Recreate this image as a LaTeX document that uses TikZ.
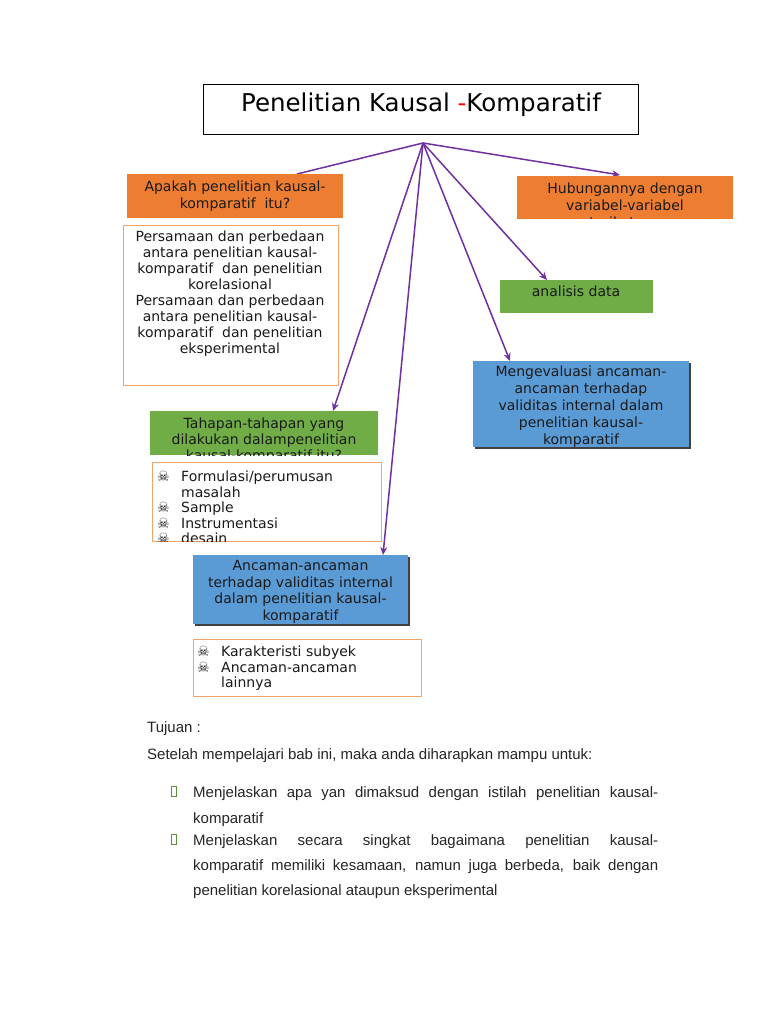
\documentclass[tikz,border=0pt]{standalone}
\usepackage{fontspec}
\newfontfamily\vf{DejaVu Sans}
\newfontfamily\djv{DejaVu Sans}
\newfontfamily\af{Liberation Sans}
\usetikzlibrary{arrows.meta}
\definecolor{orng}{HTML}{ED7D31}
\definecolor{orbd}{HTML}{F0A468}
\definecolor{grn}{HTML}{70AD47}
\definecolor{blu}{HTML}{5B9BD5}
\definecolor{prp}{HTML}{7030A0}
\definecolor{bltx}{HTML}{1A1A1A}
\definecolor{bulg}{HTML}{5E8E3C}
\tikzset{
  boxn/.style={rectangle, inner sep=0, outer sep=0, anchor=north west},
  fillbox/.style={boxn, draw=none},
  framebox/.style={boxn, draw=orbd, line width=1pt, fill=white},
  shadowbox/.style={boxn, fill=black!75, draw=none},
  lh/.style={font=\vf\fontsize{14}{#1}\selectfont},
  txt/.style={lh=16.5, align=center, inner sep=0, anchor=north, text=bltx},
  ltxt/.style={lh=15.6, align=left, inner sep=0, anchor=north west, text=bltx},
  btxt/.style={font=\af\fontsize{15}{18}\selectfont, inner sep=0, anchor=base west, text=black!85},
  conn/.style={draw=prp, line width=1.5pt},
  arr/.style={conn, -{Stealth[length=8pt,width=7pt]}},
  gbul/.style={rectangle, draw=bulg, line width=1.2pt, minimum width=4.5pt, minimum height=10pt, inner sep=0, anchor=south west}
}
\newcommand{\skb}{\makebox[24pt][l]{\djv\fontsize{14}{12}\selectfont ☠}}
\begin{document}
\begin{tikzpicture}[x=1pt,y=-1pt]
\useasboundingbox (0,0) rectangle (768,1024);
\fill[white] (0,0) rectangle (768,1024);

% title
\node[boxn, draw=black, line width=1pt, fill=white, minimum width=435, minimum height=50] (title) at (203,85) {};
\node[font=\vf\fontsize{24.5}{28}\selectfont, anchor=base, inner sep=0] (titlet) at (421,112) {Penelitian Kausal \textcolor{red}{-}Komparatif};
\coordinate (hub) at (423,143);

% target coordinates
\coordinate (e1) at (297,174);
\coordinate (e2) at (620,175);
\coordinate (e3) at (547,280);
\coordinate (e4) at (510,361);
\coordinate (e5) at (333,411);
\coordinate (e6) at (383,555);

\draw[conn] (hub) -- (e1);
\draw[arr] (hub) -- (e2);
\draw[arr] (hub) -- (e3);
\draw[arr] (hub) -- (e4);
\draw[arr] (hub) -- (e5);
\draw[arr] (hub) -- (e6);

% orange box 1
\node[fillbox, fill=orng, minimum width=216, minimum height=44] (q1) at (127,174) {};
\node[txt, lh=17] (q1t) at (235,180.4) {Apakah penelitian kausal-\\komparatif\ \ itu?};

% orange box 2
\node[fillbox, fill=orng, minimum width=216, minimum height=43] (q2) at (517,176) {};
\begin{scope}
\clip (q2.south west) rectangle (q2.north east);
\node[txt, lh=17] (q2t) at (625,182.4) {Hubungannya dengan\\variabel-variabel\\terikatnya};
\end{scope}

% white box 1
\node[framebox, minimum width=215, minimum height=159] (w1) at (123,226) {};
\node[txt, lh=16] (w1t) at (230,230.4) {Persamaan dan perbedaan\\antara penelitian kausal-\\komparatif\ \ dan penelitian\\korelasional\\Persamaan dan perbedaan\\antara penelitian kausal-\\komparatif\ \ dan penelitian\\eksperimental};

% analisis data
\node[fillbox, fill=grn, minimum width=153, minimum height=33] (ad) at (500,280) {};
\node[txt] (adt) at (576,286) {analisis data};

% blue box 1
\node[shadowbox, minimum width=216, minimum height=86] (b1s) at (474.5,362.5) {};
\node[fillbox, fill=blu, minimum width=216, minimum height=86] (b1) at (473,361) {};
\begin{scope}
\clip (b1.south west) rectangle (b1.north east);
\node[txt, lh=17] (b1t) at (581,365.4) {Mengevaluasi ancaman-\\ancaman terhadap\\validitas internal dalam\\penelitian kausal-\\komparatif};
\end{scope}

% green box Tahapan
\node[fillbox, fill=grn, minimum width=228, minimum height=44] (g1) at (150,411) {};
\begin{scope}
\clip (g1.south west) rectangle (g1.north east);
\node[txt, lh=16] (g1t) at (264,417.4) {Tahapan-tahapan yang\\dilakukan dalampenelitian\\kausal-komparatif itu?};
\end{scope}

% list 1
\node[framebox, minimum width=229, minimum height=79] (l1) at (152,462) {};
\begin{scope}
\clip (l1.south west) rectangle (l1.north east);
\node[ltxt] (l1t) at (157,470.6) {\skb Formulasi/perumusan\\\hspace*{24pt}masalah\\\skb Sample\\\skb Instrumentasi\\\skb desain};
\end{scope}

% blue box 2
\node[shadowbox, minimum width=215, minimum height=69] (b2s) at (194.5,556.5) {};
\node[fillbox, fill=blu, minimum width=215, minimum height=69] (b2) at (193,555) {};
\begin{scope}
\clip (b2.south west) rectangle (b2.north east);
\node[txt] (b2t) at (300.5,560.4) {Ancaman-ancaman\\terhadap validitas internal\\dalam penelitian kausal-\\komparatif};
\end{scope}

% list 2
\node[framebox, minimum width=228, minimum height=57] (l2) at (193,639) {};
\node[ltxt, lh=15.5] (l2t) at (197,646) {\skb Karakteristi subyek\\\skb Ancaman-ancaman\\\hspace*{24pt}lainnya};

% bottom text
\node[btxt] (tj) at (147,732) {Tujuan :};
\node[btxt] (st) at (147,759) {Setelah mempelajari bab ini, maka anda diharapkan mampu untuk:};
\node[gbul] (gb1) at (171,797) {};
\node[btxt] (m1) at (193,797) {\makebox[465pt][s]{Menjelaskan apa yan dimaksud dengan istilah penelitian kausal-}};
\node[btxt] (m1b) at (193,823) {komparatif};
\node[gbul] (gb2) at (171,845) {};
\node[btxt] (m2) at (193,845) {\makebox[465pt][s]{Menjelaskan secara singkat bagaimana penelitian kausal-}};
\node[btxt] (m2b) at (193,870) {\makebox[465pt][s]{komparatif memiliki kesamaan, namun juga berbeda, baik dengan}};
\node[btxt] (m2c) at (193,895) {penelitian korelasional ataupun eksperimental};
\end{tikzpicture}
\end{document}
